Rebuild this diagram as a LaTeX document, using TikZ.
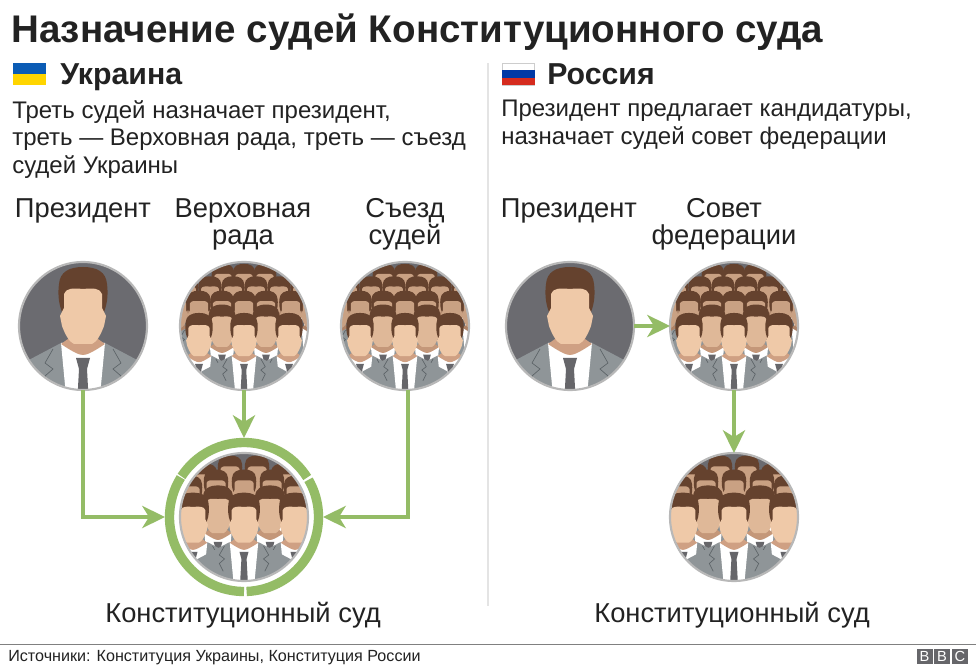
\documentclass[tikz,border=0pt]{standalone}
\usepackage{fontspec}
\setmainfont{Liberation Sans}
\usetikzlibrary{arrows.meta}
\definecolor{ink}{HTML}{222222}
\definecolor{linkgreen}{HTML}{94BC66}
\definecolor{rimgray}{HTML}{B8B8B8}
\definecolor{rulegray}{HTML}{E4E4E4}
\definecolor{backdrop}{HTML}{6B6B70}
\definecolor{suitgray}{HTML}{8F9598}
\definecolor{suitdark}{HTML}{5D6468}
\definecolor{tiegray}{HTML}{66666A}
\definecolor{hairbrown}{HTML}{65422E}
\definecolor{skinfront}{HTML}{EFC9A8}
\definecolor{neckfront}{HTML}{CFA083}
\definecolor{skinmid}{HTML}{DFB898}
\definecolor{neckmid}{HTML}{C49779}
\definecolor{skinback}{HTML}{C9A183}
\definecolor{neckback}{HTML}{AD8266}
\definecolor{uablue}{HTML}{0B5CB5}
\definecolor{uayellow}{HTML}{FFD500}
\definecolor{rublue}{HTML}{0039A6}
\definecolor{rured}{HTML}{D52B1E}
\tikzset{
	x=0.75pt, y=-0.75pt,
	link/.style={draw=linkgreen, line width=3.6pt, -{Stealth[length=17pt, width=16.5pt, inset=5pt]}},
	portrait/.style={circle, draw=rimgray, line width=1.6pt, minimum size=96pt, inner sep=0pt, outer sep=0pt},
	ringnode/.style={circle, minimum size=118.5pt, inner sep=0pt, outer sep=0pt},
	ringarc/.style={draw=linkgreen, line width=7pt},
	headline/.style={font=\bfseries\fontsize{28.9}{32}\selectfont, text=ink, anchor=base west, inner sep=0pt},
	country/.style={font=\bfseries\fontsize{22.7}{26}\selectfont, text=ink, anchor=base west, inner sep=0pt},
	blurb/.style={font=\fontsize{18}{20.6}\selectfont, text=ink, anchor=north west, align=left, inner sep=0pt},
	caption/.style={font=\fontsize{20.5}{20.3}\selectfont, text=ink, anchor=north, align=center, inner sep=0pt},
	source/.style={font=\fontsize{12.1}{14}\selectfont, text=ink, anchor=base west, inner sep=0pt},
	bbcbox/.style={fill=tiegray, text=white, font=\fontsize{11}{11}\selectfont, minimum width=12pt, minimum height=11.5pt, inner sep=0pt},
}
% one man: x, y, scale, skin, neck
\def\person(#1,#2,#3)#4#5{
	\begin{scope}[shift={(#1,#2)}, scale=#3]
		\fill[suitgray] (-75,45) -- (-22,17) -- (22,17) -- (75,45) -- (75,80) -- (-75,80) -- cycle;
		\fill[white] (-22,17) -- (-16,80) -- (16,80) -- (22,17) -- cycle;
		\draw[suitdark, line width=0.5pt] (-30,23) -- (-38,37) -- (-30,43) -- (-38,50) -- (-32,62);
		\draw[suitdark, line width=0.5pt] (30,23) -- (38,37) -- (30,43) -- (38,50) -- (32,62);
		\fill[tiegray] (-7,32) -- (7,32) -- (4,43) -- (6,80) -- (-6,80) -- (-4,43) -- cycle;
		\fill[#5] (-15,4) -- (-15,13) -- (-22,18) .. controls (-10,26) and (-4,29) .. (0,29) .. controls (4,29) and (10,26) .. (22,18) -- (15,13) -- (15,4) -- cycle;
		\fill[hairbrown] (-21,-14) .. controls (-25,-24) and (-25,-34) .. (-24,-42) .. controls (-23,-54) and (-14,-59) .. (0,-59) .. controls (14,-59) and (23,-54) .. (24,-42) .. controls (25,-34) and (25,-24) .. (21,-14) -- cycle;
		\fill[#4] (-19,-32) .. controls (-17,-38) and (-10,-38) .. (0,-37) .. controls (10,-38) and (17,-38) .. (19,-32) -- (19,-18) -- (23,-10) -- (21,0) .. controls (18,8) and (14,16) .. (9,18) -- (-9,18) .. controls (-14,16) and (-18,8) .. (-21,0) -- (-23,-10) -- (-19,-18) -- cycle;
	\end{scope}
}
% single man in a circle
\def\soloman(#1,#2){
	\begin{scope}
		\clip (#1,#2) circle (64);
		\fill[backdrop] (#1,#2) circle (64);
		\person(#1,#2,1){skinfront}{neckfront}
	\end{scope}
}
% upper crowd, five rows
\def\crowdhigh(#1,#2){
	\begin{scope}[shift={(#1,#2)}]
		\clip (0,0) circle (64);
		\fill[backdrop] (0,0) circle (64);
		\foreach \cx in {-21,0,21} {\person(\cx,-35,0.46){skinback}{neckback}}
		\foreach \cx in {-57,-34,-11,12,35,58} {\person(\cx,-22,0.47){skinback}{neckback}}
		\foreach \cx in {-67,-45,-22,0,22,47,68} {\person(\cx,-7,0.48){skinback}{neckback}}
		\foreach \cx in {-22,22} {\person(\cx,11,0.55){skinmid}{neckmid}}
		\foreach \cx in {-45,45,0} {\person(\cx,20,0.56){skinfront}{neckfront}}
	\end{scope}
}
% lower crowd, five rows
\def\crowdlow(#1,#2){
	\begin{scope}[shift={(#1,#2)}]
		\clip (0,0) circle (64);
		\fill[backdrop] (0,0) circle (64);
		\foreach \cx in {-14,13} {\person(\cx,-32,0.5){skinback}{neckback}}
		\foreach \cx in {-39,39} {\person(\cx,-24,0.5){skinback}{neckback}}
		\foreach \cx in {-54,52} {\person(\cx,-12,0.5){skinback}{neckback}}
		\foreach \cx in {-28,0,28} {\person(\cx,-18,0.5){skinback}{neckback}}
		\foreach \cx in {-26,26} {\person(\cx,5,0.62){skinmid}{neckmid}}
		\foreach \cx in {-51,51,0} {\person(\cx,14,0.65){skinfront}{neckfront}}
	\end{scope}
}
\begin{document}
\begin{tikzpicture}
	\useasboundingbox (0,0) rectangle (976,670);
	\fill[white] (0,0) rectangle (976,670);

	%%%%% texts %%%%%
	\node[headline] (title) at (11,43) {Назначение судей Конституционного суда};

	\fill[rulegray] (487,63) rectangle (489,606);

	\fill[uablue] (13,63) rectangle (46,74);
	\fill[uayellow] (13,74) rectangle (46,85);
	\node[country] (ukraine) at (60,85) {Украина};
	\node[blurb] (ukrainetext) at (12,100) {Треть судей назначает президент,\\треть — Верховная рада, треть — съезд\\судей Украины};

	\draw[rimgray!70, line width=0.5pt] (502.5,63.5) rectangle (534.5,85);
	\fill[rublue] (502,70.5) rectangle (535,78);
	\fill[rured] (502,78) rectangle (535,85.5);
	\node[country] (russia) at (547,85) {Россия};
	\node[blurb] (russiatext) at (501,100) {Президент предлагает кандидатуры,\\назначает судей совет федерации};

	\node[caption] (labelpresua) at (83,198) {Президент};
	\node[caption] (labelrada) at (243,198) {Верховная\\рада};
	\node[caption] (labelsud) at (405,198) {Съезд\\судей};
	\node[caption] (labelpresru) at (569,198) {Президент};
	\node[caption] (labelsovet) at (724,198) {Совет\\федерации};

	%%%%% circles %%%%%
	\soloman(83,326)
	\node[portrait] (presua) at (83,326) {};
	\crowdhigh(244,326)
	\node[portrait] (rada) at (244,326) {};
	\crowdhigh(405,326)
	\node[portrait] (sud) at (405,326) {};
	\soloman(570,326)
	\node[portrait] (presru) at (570,326) {};
	\crowdhigh(734,326)
	\node[portrait] (sovet) at (734,326) {};

	\crowdlow(244,517)
	\node[portrait] (courtua) at (244,517) {};
	\node[ringnode] (ringua) at (244,517) {};
	\foreach \a/\b in {-147/-32, -30/88, 90/212} {
		\draw[ringarc] (ringua.center) ++(\a:74.5) arc (\a:\b:74.5);
	}
	\crowdlow(734,517)
	\node[portrait] (courtru) at (734,517) {};

	\node[caption] (labelcourtua) at (243,602) {Конституционный суд};
	\node[caption] (labelcourtru) at (732,602) {Конституционный суд};

	%%%%% arrows %%%%%
	\coordinate (sudfoot) at (408,390);
	\draw[link] (presua) |- (ringua);
	\draw[link] (rada) -- (ringua);
	\draw[link] (sudfoot) |- (ringua);
	\draw[link] (presru) -- (sovet);
	\draw[link] (sovet) -- (courtru);

	%%%%% footer %%%%%
	\draw[gray, line width=0.75pt] (0,644) -- (976,644);
	\node[source] (sources) at (8,662) {Источники: Конституция Украины, Конституция России};
	\node[bbcbox] (bbca) at (924.5,656.5) {B};
	\node[bbcbox] (bbcb) at (942,656.5) {B};
	\node[bbcbox] (bbcc) at (960,656.5) {C};
\end{tikzpicture}
\end{document}
